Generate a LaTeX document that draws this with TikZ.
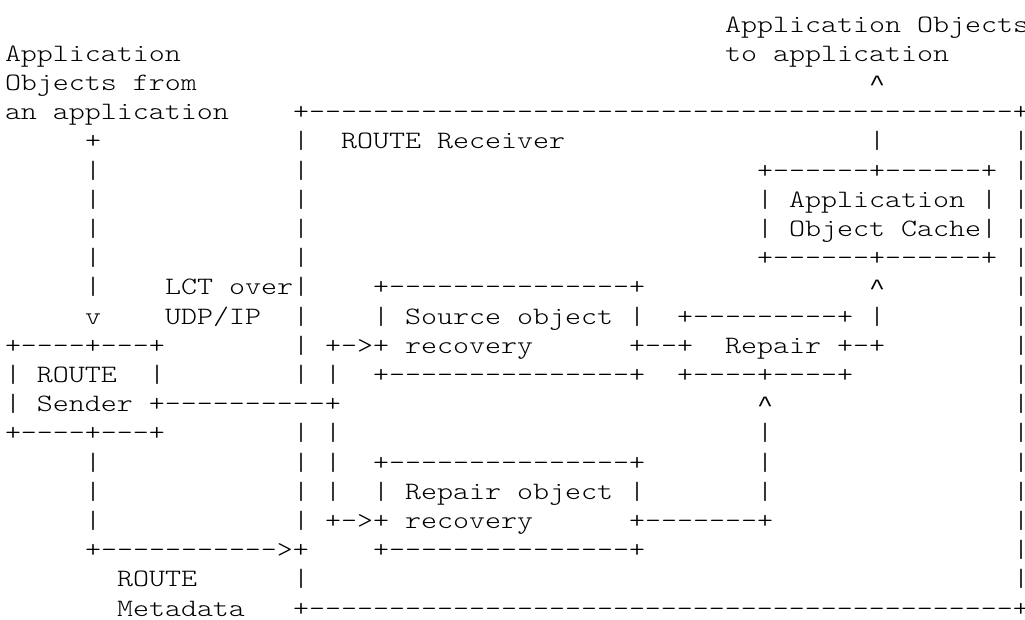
\documentclass[tikz,border=0pt]{standalone}
\usepackage{fontspec}
\setmonofont{lmmonolt10-regular.otf}
\newfontfamily\caretfont{Liberation Mono}
\usepackage{graphicx}
\ExplSyntaxOn
\cs_new:Npn \dashrun #1 { \prg_replicate:nn {#1} {-} }
\ExplSyntaxOff
\frenchspacing
\newcommand\upcaret{\makebox[12pt][c]{\caretfont\fontsize{20pt}{24pt}\selectfont\textasciicircum}}
\tikzset{asc/.style={anchor=base west, inner sep=0pt, outer sep=0pt,
  font=\ttfamily\fontsize{22.857pt}{26pt}\selectfont}}
% name, column, row, text
\newcommand\ascseg[4]{\node[asc] (#1) at ({5+16*#2},{32+29.2*#3}) {\scalebox{1}[0.82]{#4}};}
\begin{document}
\begin{tikzpicture}[x=0.75pt,y=-0.75pt]
\fill[white] (0,0) rectangle (1025,619);
\useasboundingbox (0,0) rectangle (1025,619);
% row 0-2
\ascseg{outTitleA}{45}{0}{Application Objects}
\ascseg{inTitleA}{0}{1}{Application}
\ascseg{outTitleB}{45}{1}{to application}
\ascseg{inTitleB}{0}{2}{Objects from}
\ascseg{outArrow}{54}{2}{\upcaret}
% row 3
\ascseg{inTitleC}{0}{3}{an application}
\ascseg{rcvTop}{18}{3}{+\dashrun{44}+}
% row 4
\ascseg{r4a}{5}{4}{+}
\ascseg{r4b}{18}{4}{|}
\ascseg{rcvLabel}{21}{4}{ROUTE Receiver}
\ascseg{r4c}{54}{4}{|}
\ascseg{r4d}{63}{4}{|}
% rows 5-8
\ascseg{r5a}{5}{5}{|}
\ascseg{r5b}{18}{5}{|}
\ascseg{cacheTop}{47}{5}{+\dashrun{6}+\dashrun{6}+ |}
\ascseg{r6a}{5}{6}{|}
\ascseg{r6b}{18}{6}{|}
\ascseg{cacheA}{47}{6}{| Application | |}
\ascseg{r7a}{5}{7}{|}
\ascseg{r7b}{18}{7}{|}
\ascseg{cacheB}{47}{7}{| Object Cache| |}
\ascseg{r8a}{5}{8}{|}
\ascseg{r8b}{18}{8}{|}
\ascseg{cacheBot}{47}{8}{+\dashrun{6}+\dashrun{6}+ |}
% row 9
\ascseg{r9a}{5}{9}{|}
\ascseg{lctA}{10}{9}{LCT over|}
\ascseg{srcTop}{23}{9}{+\dashrun{15}+}
\ascseg{r9b}{54}{9}{\upcaret}
\ascseg{r9c}{63}{9}{|}
% row 10
\ascseg{r10a}{5}{10}{v}
\ascseg{lctB}{10}{10}{UDP/IP}
\ascseg{r10b}{18}{10}{|}
\ascseg{srcA}{23}{10}{| Source object |}
\ascseg{repTop}{42}{10}{+\dashrun{9}+ |}
\ascseg{r10c}{63}{10}{|}
% row 11
\ascseg{sndTop}{0}{11}{+\dashrun{4}+\dashrun{3}+}
\ascseg{srcB}{18}{11}{| +->+ recovery}
\ascseg{r11a}{39}{11}{+\dashrun{2}+}
\ascseg{repLabel}{45}{11}{Repair +-+}
\ascseg{r11b}{63}{11}{|}
% row 12
\ascseg{sndA}{0}{12}{| ROUTE}
\ascseg{r12a}{9}{12}{|}
\ascseg{r12b}{18}{12}{| |}
\ascseg{srcBot}{23}{12}{+\dashrun{15}+}
\ascseg{repBot}{42}{12}{+\dashrun{4}+\dashrun{4}+}
\ascseg{r12c}{63}{12}{|}
% row 13
\ascseg{sndB}{0}{13}{| Sender +\dashrun{10}+}
\ascseg{r13a}{47}{13}{\upcaret}
\ascseg{r13b}{63}{13}{|}
% row 14
\ascseg{sndBot}{0}{14}{+\dashrun{4}+\dashrun{3}+}
\ascseg{r14a}{18}{14}{| |}
\ascseg{r14b}{47}{14}{|}
\ascseg{r14c}{63}{14}{|}
% row 15
\ascseg{r15a}{5}{15}{|}
\ascseg{r15b}{18}{15}{| |}
\ascseg{rpoTop}{23}{15}{+\dashrun{15}+}
\ascseg{r15c}{47}{15}{|}
\ascseg{r15d}{63}{15}{|}
% row 16
\ascseg{r16a}{5}{16}{|}
\ascseg{r16b}{18}{16}{| |}
\ascseg{rpoA}{23}{16}{| Repair object |}
\ascseg{r16c}{47}{16}{|}
\ascseg{r16d}{63}{16}{|}
% row 17
\ascseg{r17a}{5}{17}{|}
\ascseg{rpoB}{18}{17}{| +->+ recovery}
\ascseg{r17b}{39}{17}{+\dashrun{7}+}
\ascseg{r17c}{63}{17}{|}
% row 18
\ascseg{metaArrow}{5}{18}{+\dashrun{11}>+}
\ascseg{rpoBot}{23}{18}{+\dashrun{15}+}
\ascseg{r18a}{63}{18}{|}
% row 19-20
\ascseg{metaA}{7}{19}{ROUTE}
\ascseg{r19a}{18}{19}{|}
\ascseg{r19b}{63}{19}{|}
\ascseg{metaB}{7}{20}{Metadata}
\ascseg{rcvBot}{18}{20}{+\dashrun{44}+}
\end{tikzpicture}
\end{document}
